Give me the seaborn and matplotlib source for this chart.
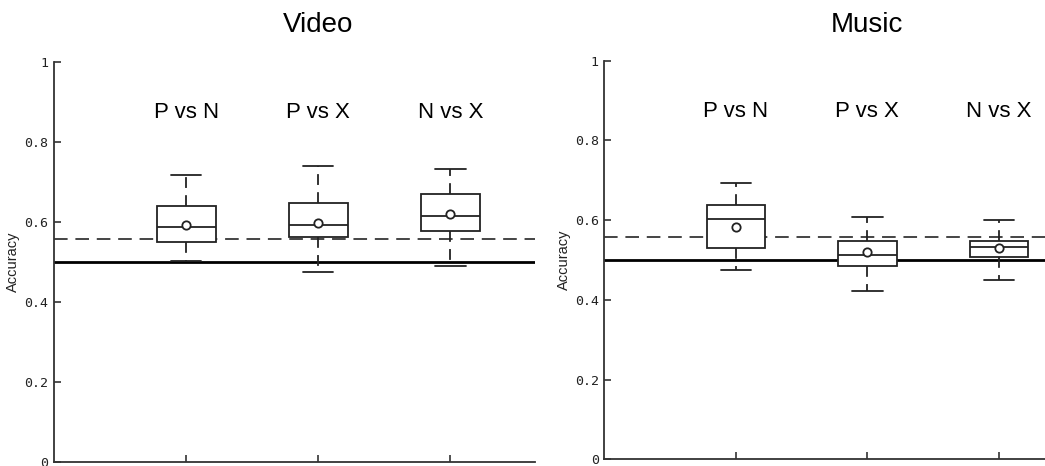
import numpy as np
import pandas as pd
import matplotlib
matplotlib.use("Agg")
import matplotlib.pyplot as plt
import seaborn as sns

# Pairwise classification accuracy, summarised per comparison
comparisons = ["P vs N", "P vs X", "N vs X"]

# five-number summaries: whisker low, Q1, median, Q3, whisker high
video_low = [0.502, 0.475, 0.490]
video_q1 = [0.550, 0.561, 0.578]
video_median = [0.588, 0.591, 0.615]
video_q3 = [0.640, 0.646, 0.670]
video_high = [0.717, 0.740, 0.732]
video_mean = [0.592, 0.597, 0.619]

music_low = [0.476, 0.423, 0.450]
music_q1 = [0.530, 0.484, 0.508]
music_median = [0.603, 0.513, 0.532]
music_q3 = [0.637, 0.548, 0.548]
music_high = [0.692, 0.607, 0.600]
music_mean = [0.584, 0.521, 0.530]

chance_level = 0.5
significance_level = 0.557

panel_titles = ["Video", "Music"]
y_ticks = [0, 0.2, 0.4, 0.6, 0.8, 1]
y_tick_labels = ["0", "0.2", "0.4", "0.6", "0.8", "1"]


def summary_frame(low, q1, med, q3, high):
    rows = []
    for name, *vals in zip(comparisons, low, q1, med, q3, high):
        for v in vals:
            rows.append({"comparison": name, "accuracy": v})
    return pd.DataFrame(rows)


sns.set_theme(style="white")
plt.rcParams["font.family"] = ["Liberation Sans", "DejaVu Sans"]

fig = plt.figure(figsize=(10.45, 4.66), dpi=100)
W, H = 1045, 466
ax_video = fig.add_axes([54 / W, 1 - 461.7 / H, (535 - 54) / W, (461.7 - 62) / H])
ax_music = fig.add_axes([604.3 / W, 1 - 459.3 / H, (1045 - 604.3) / W, (459.3 - 60.7) / H])

panels = [
    (ax_video, summary_frame(video_low, video_q1, video_median, video_q3, video_high), video_mean, (-1.0, 2.64)),
    (ax_music, summary_frame(music_low, music_q1, music_median, music_q3, music_high), music_mean, (-1.0, 2.35)),
]

dark = "#222222"
for (ax, df, means, xlim), title in zip(panels, panel_titles):
    sns.boxplot(
        data=df, x="comparison", y="accuracy", order=comparisons, ax=ax,
        whis=(0, 100), width=0.445, fill=True, color="white", linecolor=dark,
        linewidth=1.3, showfliers=False, saturation=1,
        whiskerprops=dict(linestyle=(0, (6, 4)), color=dark, linewidth=1.3),
        capprops=dict(color=dark, linewidth=1.3),
        medianprops=dict(color=dark, linewidth=1.3),
        boxprops=dict(edgecolor=dark, linewidth=1.3),
        capwidths=0.23,
    )
    sns.scatterplot(
        x=comparisons, y=means, ax=ax, marker="o", s=36,
        facecolor="white", edgecolor=dark, linewidth=1.3, zorder=5,
    )
    ax.axhline(chance_level, color="black", linewidth=2.0, zorder=1)
    ax.axhline(significance_level, color="#444444", linewidth=1.4,
               linestyle=(0, (7, 4)), zorder=1)

    ax.set_xlim(*xlim)
    ax.set_ylim(0, 1)
    ax.set_yticks(y_ticks)
    ax.set_yticklabels(y_tick_labels, family="DejaVu Sans Mono", fontsize=9.5)
    ax.set_xticks(range(len(comparisons)))
    ax.set_xticklabels([])
    ax.tick_params(axis="both", direction="in", length=5, width=1.2,
                   color="#333333", labelcolor="#222222", pad=4,
                   left=True, bottom=True)
    ax.set_xlabel("")
    ax.set_ylabel("Accuracy", fontsize=10.5, color="#222222", labelpad=3,
                  family="Liberation Sans", style="normal")
    for side in ("top", "right"):
        ax.spines[side].set_visible(False)
    for side in ("left", "bottom"):
        ax.spines[side].set_color("#333333")
        ax.spines[side].set_linewidth(1.3)

    for i, name in enumerate(comparisons):
        ax.text(i, 0.859, name, ha="center", va="baseline", fontsize=16,
                color="black")

# panel titles share one baseline across the figure
for ax, title in zip((ax_video, ax_music), panel_titles):
    x_fig = fig.transFigure.inverted().transform(ax.transData.transform((1, 0)))[0]
    fig.text(x_fig, 1 - 31.7 / H, title, ha="center", va="baseline",
             fontsize=20, color="black")

fig.savefig("out.png", dpi=100)
